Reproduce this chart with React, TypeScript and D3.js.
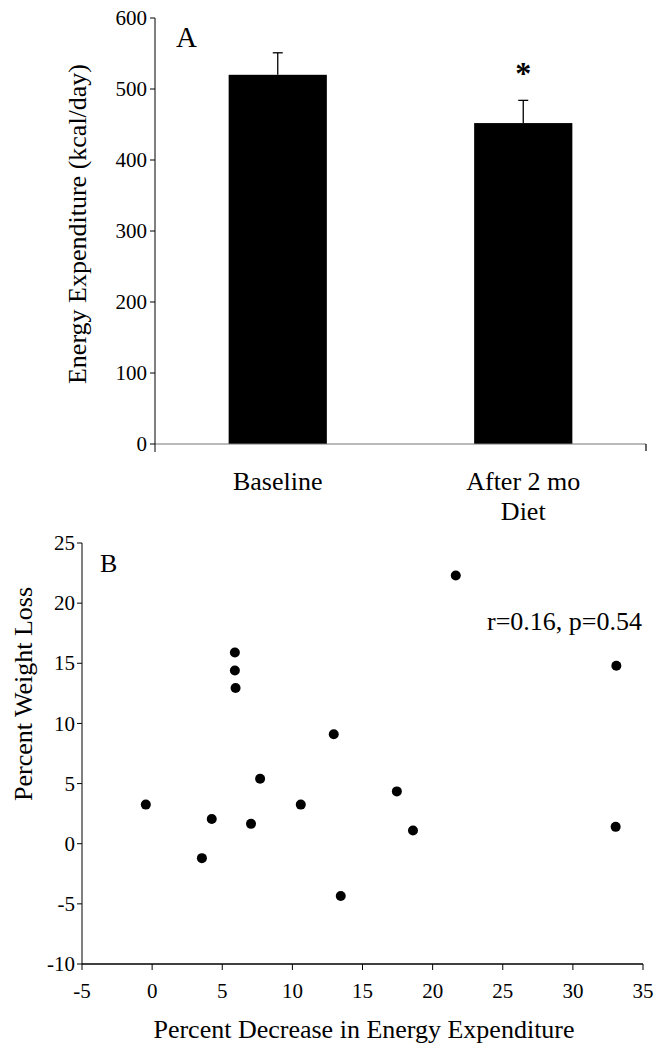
import React from "react";
import * as d3 from "d3";

// Panel A: energy expenditure before / after diet (mean ± SE)
const groups = ["Baseline", "After 2 mo Diet"];
const groupLines = [["Baseline"], ["After 2 mo", "Diet"]];
const energyMean = [520, 452];
const energySE = [31, 32];
const energyTicks = [0, 100, 200, 300, 400, 500, 600];

// Panel B: percent decrease in energy expenditure vs percent weight loss
const pctDecrease = [5.9, 5.9, 5.95, 7.7, -0.45, 10.6, 4.25, 7.05, 3.55, 21.65, 12.95, 17.45, 18.6, 13.45, 33.1, 33.05];
const pctWeightLoss = [15.9, 14.4, 12.95, 5.4, 3.25, 3.25, 2.05, 1.65, -1.2, 22.3, 9.1, 4.35, 1.1, -4.35, 14.8, 1.4];
const xTicksB = [-5, 0, 5, 10, 15, 20, 25, 30, 35];
const yTicksB = [-10, -5, 0, 5, 10, 15, 20, 25];

const FONT = '"Liberation Serif", "Times New Roman", Times, serif';

export default function App() {
  // ---- Panel A scales
  const xA = d3
    .scaleBand<string>()
    .domain(groups)
    .range([155, 646])
    .paddingInner(0.6)
    .paddingOuter(0.3);
  const yA = d3.scaleLinear().domain([0, 600]).range([444, 18]);

  // ---- Panel B scales
  const xB = d3.scaleLinear().domain([-5, 35]).range([82, 643]);
  const yB = d3.scaleLinear().domain([-10, 25]).range([964, 543]);

  const capHalf = 5;

  return (
    <svg
      width={656}
      height={1045}
      style={{ position: "absolute", left: 0, top: 0, background: "#fff" }}
      fontFamily={FONT}
    >
      {/* ================= Panel A ================= */}
      <g>
        {/* bars */}
        {groups.map((g, i) => (
          <rect
            key={g}
            x={xA(g)!}
            y={yA(energyMean[i])}
            width={xA.bandwidth()}
            height={yA(0) - yA(energyMean[i])}
            fill="#000"
          />
        ))}
        {/* error bars */}
        {groups.map((g, i) => {
          const cx = xA(g)! + xA.bandwidth() / 2;
          const top = yA(energyMean[i] + energySE[i]);
          return (
            <g key={g + "-err"} stroke="#000" strokeWidth={1.3}>
              <line x1={cx} x2={cx} y1={yA(energyMean[i])} y2={top} />
              <line x1={cx - capHalf} x2={cx + capHalf} y1={top} y2={top} />
            </g>
          );
        })}
        {/* significance marker */}
        <text
          x={xA(groups[1])! + xA.bandwidth() / 2}
          y={yA(energyMean[1] + energySE[1]) - 16}
          textAnchor="middle"
          fontSize={32}
          fontWeight="bold"
        >
          *
        </text>

        {/* x axis */}
        <line x1={155} x2={xA.range()[1]} y1={yA(0)} y2={yA(0)} stroke="#777" strokeWidth={1.2} />
        <line x1={xA.range()[1]} x2={xA.range()[1]} y1={yA(0)} y2={yA(0) + 7} stroke="#000" strokeWidth={1.2} />
        {/* y axis */}
        <line x1={155} x2={155} y1={yA(600)} y2={yA(0) + 8} stroke="#000" strokeWidth={1} />
        {energyTicks.map((t) => (
          <g key={t} transform={`translate(155,${yA(t)})`}>
            <line x1={-5} x2={0} stroke="#000" strokeWidth={1} />
            <text x={-8} dy="0.34em" textAnchor="end" fontSize={21}>
              {t}
            </text>
          </g>
        ))}
        {/* category labels */}
        {groups.map((g, i) => (
          <text
            key={g + "-lbl"}
            x={xA(g)! + xA.bandwidth() / 2}
            y={490}
            textAnchor="middle"
            fontSize={26}
          >
            {groupLines[i].map((ln, j) => (
              <tspan key={j} x={xA(g)! + xA.bandwidth() / 2} dy={j === 0 ? 0 : 30}>
                {ln}
              </tspan>
            ))}
          </text>
        ))}
        {/* y title */}
        <text transform="translate(86,224) rotate(-90)" textAnchor="middle" fontSize={26}>
          Energy Expenditure (kcal/day)
        </text>
        {/* panel letter */}
        <text x={176} y={47} fontSize={29}>
          A
        </text>
      </g>

      {/* ================= Panel B ================= */}
      <g>
        {/* y axis */}
        <line x1={xB(-5)} x2={xB(-5)} y1={yB(25)} y2={yB(-10)} stroke="#000" strokeWidth={1} />
        {yTicksB.map((t) => (
          <g key={t} transform={`translate(${xB(-5)},${yB(t)})`}>
            <line x1={-5} x2={0} stroke="#000" strokeWidth={1} />
            <text x={-7} dy="0.34em" textAnchor="end" fontSize={21}>
              {t}
            </text>
          </g>
        ))}
        {/* x axis */}
        <line x1={xB(-5)} x2={xB(35)} y1={yB(-10)} y2={yB(-10)} stroke="#000" strokeWidth={1.6} />
        {xTicksB.map((t) => (
          <g key={t} transform={`translate(${xB(t)},${yB(-10)})`}>
            <line y1={0} y2={6} stroke="#000" strokeWidth={1} />
            <text y={34} textAnchor="middle" fontSize={21}>
              {t}
            </text>
          </g>
        ))}
        {/* points */}
        {pctDecrease.map((x, i) => (
          <circle key={i} cx={xB(x)} cy={yB(pctWeightLoss[i])} r={5} fill="#000" />
        ))}
        {/* annotation */}
        <text x={487} y={630} fontSize={26}>
          r=0.16, p=0.54
        </text>
        {/* titles */}
        <text x={364} y={1038} textAnchor="middle" fontSize={26}>
          Percent Decrease in Energy Expenditure
        </text>
        <text transform="translate(32,694) rotate(-90)" textAnchor="middle" fontSize={26}>
          Percent Weight Loss
        </text>
        <text x={100} y={572} fontSize={26}>
          B
        </text>
      </g>
    </svg>
  );
}
